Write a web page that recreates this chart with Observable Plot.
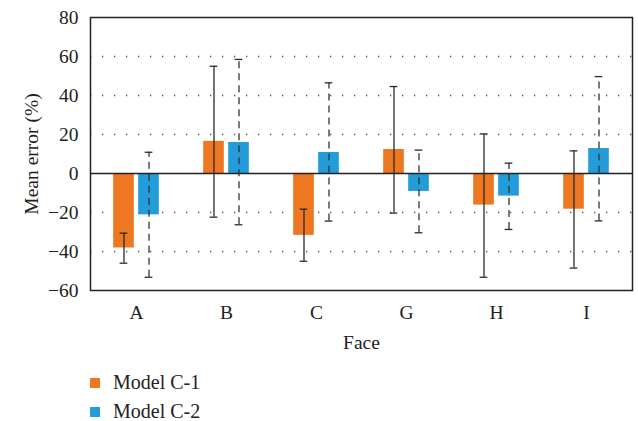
<!DOCTYPE html>
<html>
<head>
<meta charset="utf-8">
<script src="https://cdn.jsdelivr.net/npm/d3@7"></script>
<script src="https://cdn.jsdelivr.net/npm/@observablehq/plot@0.6"></script>
<style>
  body { margin: 0; background: #fff; font-family: "Liberation Serif", "DejaVu Serif", serif; }
  #legend { margin-top: 6px; padding-left: 90px; font-size: 20px; color: #222; }
  .row { display: flex; align-items: center; height: 29px; }
  .sw { width: 10px; height: 10px; margin-right: 13px; }
  svg text { font-family: "Liberation Serif", "DejaVu Serif", serif; }
</style>
</head>
<body>
<div id="chart"></div>
<div id="legend"></div>
<script>
const faces = ["A", "B", "C", "G", "H", "I"];
const seriesNames = ["Model C-1", "Model C-2"];
const seriesColors = ["#ee7722", "#229dd9"];
const c1Mean = [-38.2, 16.5, -31.7, 12.3, -16.2, -18.3];
const c1Low  = [-46.0, -22.4, -45.0, -20.3, -53.2, -48.5];
const c1High = [-30.6, 55.0, -18.3, 44.6, 20.3, 11.6];
const c2Mean = [-21.2, 15.9, 10.8, -9.2, -11.6, 12.8];
const c2Low  = [-53.2, -26.3, -24.4, -30.4, -28.7, -24.3];
const c2High = [10.9, 58.5, 46.5, 12.0, 5.3, 49.7];
const yTicks = [-60, -40, -20, 0, 20, 40, 60, 80];
const gridTicks = [-40, -20, 20, 40, 60];

const W = 638, H = 362, ML = 90, MR = 6, MT = 17, MB = 72;
const bw = (W - ML - MR) / faces.length;
const barW = 21, off = 12.5, cap = 4;

const c1 = faces.map((f, i) => ({face: f, v: c1Mean[i], lo: c1Low[i], hi: c1High[i]}));
const c2 = faces.map((f, i) => ({face: f, v: c2Mean[i], lo: c2Low[i], hi: c2High[i]}));

const ins = (center, half) => ({insetLeft: bw / 2 + center - half, insetRight: bw / 2 - center - half});

const errStyle = {stroke: "#2a2a2a", strokeWidth: 1.3};
const FONT = '"Liberation Serif", "DejaVu Serif", serif';

const plot = Plot.plot({
  width: W, height: H,
  marginLeft: ML, marginRight: MR, marginTop: MT, marginBottom: MB,
  style: {fontFamily: FONT, fontSize: "19.5px", color: "#222", background: "#fff"},
  x: {domain: faces, padding: 0, label: null},
  y: {domain: [-60, 80], label: null},
  marks: [
    Plot.ruleY(gridTicks, {stroke: "#444", strokeWidth: 1.3, strokeDasharray: "1.3,10.7", strokeOpacity: 0.9}),
    Plot.barY(c1, {x: "face", y: "v", fill: seriesColors[0], ...ins(-off, barW / 2)}),
    Plot.barY(c2, {x: "face", y: "v", fill: seriesColors[1], ...ins(off, barW / 2)}),
    Plot.ruleY([0], {stroke: "#222", strokeWidth: 1.5}),
    Plot.ruleX(c1, {x: "face", y1: "lo", y2: "hi", dx: -off, ...errStyle}),
    Plot.ruleX(c2, {x: "face", y1: "lo", y2: "hi", dx: off, ...errStyle, stroke: "#333", strokeDasharray: "7,5"}),
    Plot.tickY(c1, {x: "face", y: "lo", ...ins(-off, cap), ...errStyle}),
    Plot.tickY(c1, {x: "face", y: "hi", ...ins(-off, cap), ...errStyle}),
    Plot.tickY(c2, {x: "face", y: "lo", ...ins(off, cap), ...errStyle}),
    Plot.tickY(c2, {x: "face", y: "hi", ...ins(off, cap), ...errStyle}),
    Plot.axisY({ticks: yTicks, tickSize: 0, tickPadding: 12, fontSize: 19.5, label: "Mean error (%)", labelAnchor: "center", labelOffset: 66, labelArrow: "none"}),
    Plot.axisX({tickSize: 0, tickPadding: 15, fontSize: 19.5, label: "Face", labelAnchor: "center", labelOffset: 58, labelArrow: "none"}),
    Plot.frame({stroke: "#222", strokeWidth: 1.5})
  ]
});
document.getElementById("chart").appendChild(plot);

const legend = document.getElementById("legend");
seriesNames.forEach((n, i) => {
  const row = document.createElement("div");
  row.className = "row";
  const sw = document.createElement("div");
  sw.className = "sw";
  sw.style.background = seriesColors[i];
  const t = document.createElement("span");
  t.textContent = n;
  row.appendChild(sw);
  row.appendChild(t);
  legend.appendChild(row);
});
</script>
</body>
</html>
